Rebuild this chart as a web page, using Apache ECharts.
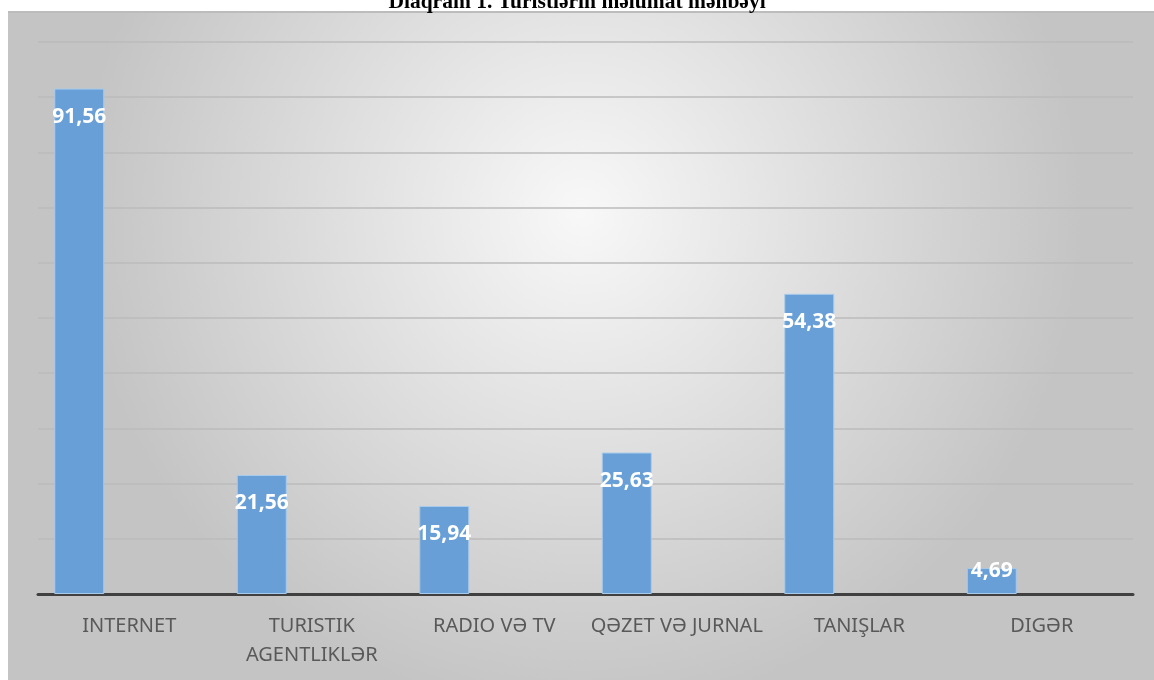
<!DOCTYPE html>
<html>
<head>
<meta charset="utf-8">
<title>Diaqram 1</title>
<script src="https://cdn.jsdelivr.net/npm/echarts@6/dist/echarts.min.js"></script>
<style>
	html, body { margin: 0; padding: 0; background: #ffffff; }
	#chart { width: 1154px; height: 680px; }
</style>
</head>
<body>
<div id="chart"></div>
<script>
/* 类目 */
var categories = ['INTERNET', 'TURISTIK\nAGENTLIKLƏR', 'RADIO VƏ TV', 'QƏZET VƏ JURNAL', 'TANIŞLAR', 'DIGƏR'];
/* 数值 */
var values = [91.56, 21.56, 15.94, 25.63, 54.38, 4.69];
/* 空系列 (原图占位) */
var emptyA = [null, null, null, null, null, null];
var emptyB = [null, null, null, null, null, null];
var titleText = 'Diaqram 1. Turistlərin məlumat mənbəyi';

window.onload = function() {
	var chart = echarts.init(document.getElementById('chart'));

	// 小柱子的标签往上放
	var mainData = values.map(function(v) {
		if (v < 8) {
			return { value: v, label: { distance: -8 } };
		}
		return v;
	});

	var option = {
		animation: false,
		title: {
			text: titleText,
			left: 'center',
			top: -14,
			textStyle: {
				fontFamily: 'Liberation Serif',
				fontWeight: 'bold',
				fontSize: 21.5,
				color: '#000000'
			}
		},
		graphic: [{
			type: 'rect',
			z: -10,
			shape: { x: 8, y: 12, width: 1146, height: 668 },
			style: {
				fill: {
					type: 'radial',
					x: 0.5, y: 0.3, r: 0.75,
					colorStops: [
						{ offset: 0, color: '#f8f8f8' },
						{ offset: 1, color: '#c4c4c4' }
					]
				}
			}
		}, {
			type: 'line',
			z: -9,
			shape: { x1: 8, y1: 12, x2: 1154, y2: 12 },
			style: { stroke: '#bcbcbc', lineWidth: 2 }
		}],
		grid: {
			left: 38,
			right: 21,
			top: 42,
			bottom: 86
		},
		xAxis: {
			type: 'category',
			data: categories,
			axisTick: { show: false },
			axisLine: {
				show: true,
				lineStyle: { color: '#404040', width: 3 }
			},
			axisLabel: {
				interval: 0,
				margin: 18,
				color: '#595959',
				fontFamily: 'Noto Sans',
				fontSize: 20,
				lineHeight: 29
			}
		},
		yAxis: {
			type: 'value',
			min: 0,
			max: 100,
			interval: 10,
			axisLine: { show: false },
			axisTick: { show: false },
			axisLabel: { show: false },
			splitLine: {
				lineStyle: { color: '#bbbbbb', width: 1.5 }
			}
		},
		series: [{
			name: 'Series 1',
			type: 'bar',
			barWidth: 50,
			barGap: '0%',
			data: mainData,
			itemStyle: {
				color: '#689fd6',
				borderColor: '#a8cbec',
				borderWidth: 1
			},
			label: {
				show: true,
				position: 'insideTop',
				distance: 18,
				color: '#ffffff',
				fontFamily: 'Open Sans',
				fontWeight: 'bold',
				fontSize: 21,
				formatter: function(p) {
					return String(p.value).replace('.', ',');
				}
			}
		}, {
			name: 'Series 2',
			type: 'bar',
			barWidth: 50,
			barGap: '0%',
			data: emptyA
		}, {
			name: 'Series 3',
			type: 'bar',
			barWidth: 50,
			barGap: '0%',
			data: emptyB
		}]
	};
	chart.setOption(option);
};
</script>
</body>
</html>
